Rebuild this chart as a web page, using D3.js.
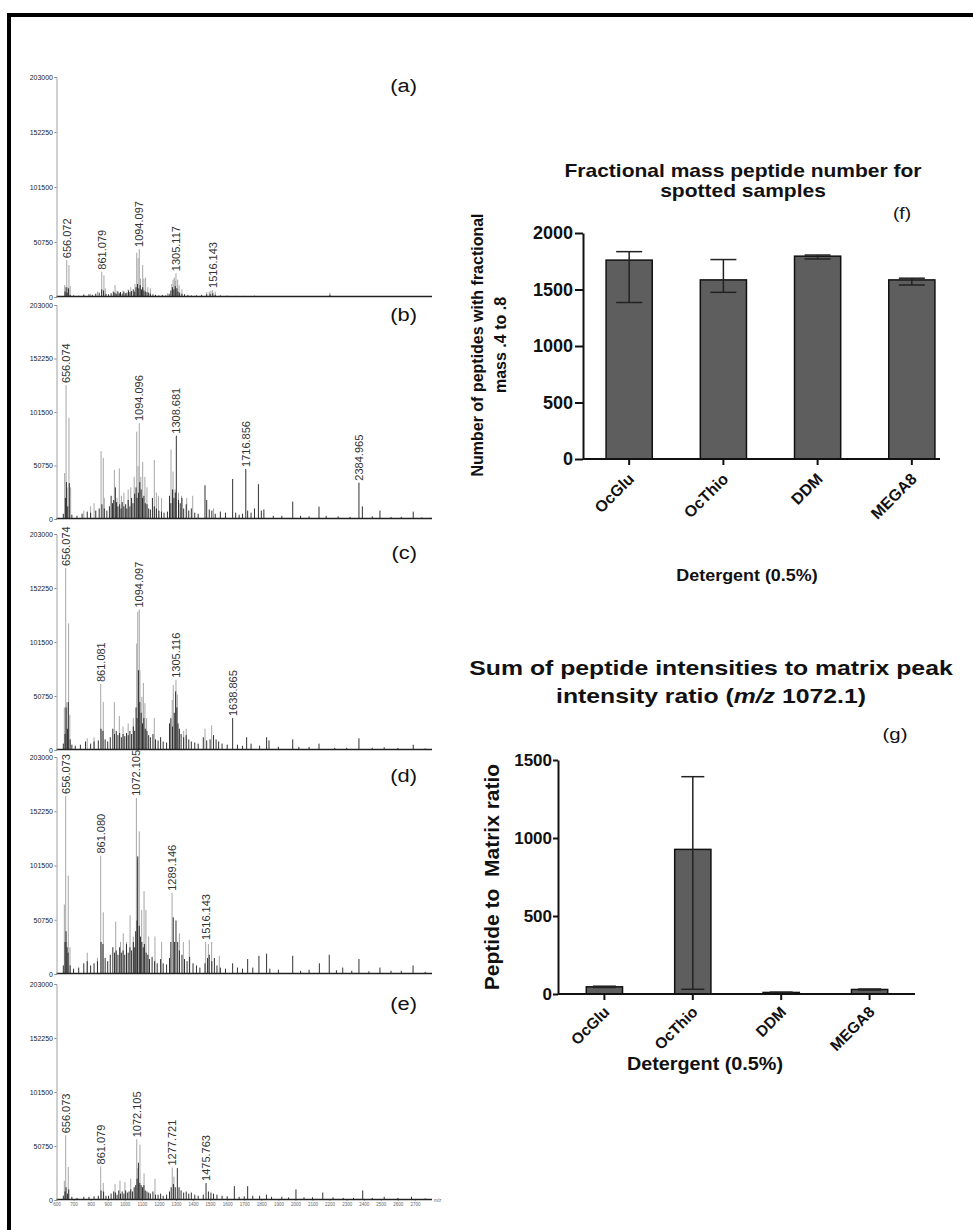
<!DOCTYPE html>
<html>
<head>
<meta charset="utf-8">
<script src="https://cdn.jsdelivr.net/npm/d3@7"></script>
<style>
  body { margin: 0; background: #fff; }
  svg { display: block; font-family: "Liberation Sans", Arial, sans-serif; }
</style>
</head>
<body>
<div class="render"></div>
<script>
"use strict";

var width = 973;
var height = 1230;
var FONT = '"Liberation Sans", Arial, sans-serif';

// ---- spectra (a)-(e): [m/z, intensity] ----
var specALight = [[648,11000],[660,34000],[664,9000],[673,29500],[680,10000],[760,2500],[800,3000],[840,5000],[865,23400],[878,20000],[886,8000],[943,11000],[955,6000],[975,4500],[990,6000],[1020,7000],[1035,9000],[1060,12000],[1070,40900],[1078,36000],[1085,44300],[1092,17000],[1105,29500],[1112,17000],[1122,18000],[1135,9000],[1150,8000],[1250,3500],[1275,12000],[1283,16000],[1290,18000],[1296,15000],[1300,22000],[1310,16000],[1318,11000],[1335,7000],[1480,4500],[1495,5000],[1505,6000],[1515,6500],[1530,5000],[2202,4000]];
var specADark = [[650,5000],[656,9000],[662,4000],[670,8000],[680,2000],[700,1500],[730,1200],[760,2000],[790,2500],[810,2000],[830,3000],[850,4000],[865,7000],[876,6000],[890,3000],[905,2500],[920,3500],[933,5000],[942,4000],[950,3000],[960,5000],[968,3500],[975,4500],[985,3000],[995,5000],[1003,3500],[1012,4000],[1022,6000],[1030,4500],[1040,5500],[1050,7000],[1058,5000],[1066,9000],[1075,12000],[1082,8000],[1090,11000],[1098,7000],[1105,9000],[1112,6000],[1120,5000],[1130,4500],[1140,4000],[1150,3000],[1165,2500],[1180,2000],[1200,1500],[1220,2000],[1240,1500],[1260,3000],[1270,6000],[1280,9000],[1288,7000],[1296,10000],[1305,8000],[1312,5000],[1322,4000],[1335,3000],[1350,2500],[1370,2000],[1390,1500],[1420,1500],[1450,2000],[1480,2500],[1500,3000],[1516,3500],[1530,2000],[1560,1500],[1600,1200],[1650,1000],[1700,1000],[1760,1200],[1820,900],[1880,800],[1950,900],[2000,700],[2070,800],[2120,800],[2202,2000],[2300,600],[2400,600],[2500,500],[2600,500],[2700,500],[2780,400]];

var specBLight = [[648,43600],[656,127000],[662,30000],[673,96000],[683,30000],[760,8000],[800,12000],[820,15000],[861,64500],[874,58000],[880,20000],[939,46500],[955,20000],[968,48000],[980,22000],[995,25000],[1020,28000],[1035,30000],[1055,40000],[1070,82800],[1078,50000],[1085,91000],[1094,40000],[1105,54000],[1118,40000],[1130,30000],[1173,56000],[1185,25000],[1197,22000],[1215,20000],[1271,66000],[1283,45000],[1295,28000],[1315,25000],[1333,22000],[1363,20000],[1398,22000],[1520,10000]];
var specBDark = [[640,5000],[652,20000],[658,35000],[666,12000],[675,34000],[690,4000],[720,3000],[750,5000],[780,7000],[800,6000],[830,8000],[850,10000],[866,14000],[880,10000],[895,8000],[910,12000],[920,22000],[928,15000],[935,18000],[945,30000],[952,16000],[960,12000],[970,14000],[978,10000],[985,16000],[995,12000],[1005,14000],[1012,10000],[1020,18000],[1030,12000],[1040,20000],[1048,15000],[1058,24000],[1066,30000],[1072,20000],[1080,25000],[1088,35000],[1096,28000],[1104,20000],[1112,22000],[1120,15000],[1130,14000],[1140,10000],[1150,9000],[1162,20000],[1173,12000],[1185,10000],[1200,8000],[1215,7000],[1230,6000],[1250,7000],[1262,22000],[1270,15000],[1280,28000],[1288,20000],[1296,25000],[1302,79000],[1315,18000],[1325,15000],[1335,20000],[1345,10000],[1360,14000],[1375,8000],[1390,10000],[1410,6000],[1430,5000],[1470,32000],[1480,18000],[1495,9000],[1510,8000],[1530,5000],[1560,7000],[1590,6000],[1632,38000],[1650,6000],[1670,4000],[1690,5000],[1709,47500],[1720,8000],[1740,6000],[1760,10000],[1783,33000],[1800,8000],[1815,9000],[1870,3000],[1920,3000],[1984,16500],[2030,3000],[2080,2500],[2138,11700],[2180,3000],[2250,2500],[2320,2000],[2372,34500],[2392,12000],[2450,2500],[2495,8000],[2560,2000],[2620,2000],[2690,7000],[2740,1500],[2790,1200]];

var specCLight = [[646,40000],[654,171000],[660,45000],[671,119000],[678,33000],[780,11000],[820,12000],[859,62000],[874,45000],[939,45000],[968,32000],[990,22000],[1020,25000],[1050,30000],[1070,100000],[1076,130000],[1085,132000],[1089,75000],[1100,50000],[1109,63000],[1118,44000],[1128,30000],[1173,30000],[1278,47000],[1284,61000],[1300,66000],[1308,52000],[1345,18000],[1360,20000],[1470,20000],[1509,23000]];
var specCDark = [[640,6000],[650,15000],[656,40000],[664,20000],[669,45000],[680,10000],[690,5000],[710,4000],[740,5000],[770,8000],[800,6000],[820,8000],[845,9000],[861,20000],[872,18000],[885,10000],[900,8000],[915,12000],[930,20000],[940,15000],[950,18000],[960,14000],[970,16000],[980,12000],[990,15000],[1000,13000],[1010,16000],[1020,14000],[1030,18000],[1040,15000],[1050,22000],[1058,18000],[1066,40000],[1072,30000],[1080,75000],[1088,45000],[1096,35000],[1104,25000],[1112,30000],[1120,20000],[1130,18000],[1140,14000],[1150,12000],[1165,15000],[1180,10000],[1195,9000],[1210,12000],[1225,8000],[1245,7000],[1262,25000],[1270,30000],[1280,22000],[1290,35000],[1298,55000],[1305,40000],[1312,25000],[1320,20000],[1330,15000],[1345,12000],[1360,14000],[1375,10000],[1390,8000],[1410,7000],[1430,6000],[1460,12000],[1480,9000],[1500,10000],[1520,14000],[1535,10000],[1550,8000],[1570,6000],[1600,5000],[1632,30000],[1660,5000],[1690,4000],[1714,12000],[1740,6000],[1790,4000],[1831,12000],[1845,9000],[1900,3000],[1984,10000],[2020,3000],[2080,3000],[2138,6000],[2230,2000],[2300,2000],[2372,11000],[2450,2000],[2520,2500],[2600,2000],[2690,5000],[2760,1500]];

var specDLight = [[646,65000],[654,166600],[660,30000],[669,92000],[679,25000],[780,20000],[840,15000],[859,110800],[874,57700],[947,49000],[975,30000],[991,38000],[1010,30000],[1031,55000],[1050,35000],[1068,164800],[1074,107000],[1085,133400],[1099,60000],[1113,77500],[1124,60000],[1140,35000],[1177,35000],[1216,30000],[1277,76000],[1320,38000],[1343,30000],[1378,32000],[1474,30000],[1490,28000],[1509,30000],[1554,17000]];
var specDDark = [[640,8000],[650,30000],[656,40000],[662,25000],[668,20000],[680,8000],[700,5000],[730,6000],[760,10000],[780,12000],[800,8000],[820,10000],[840,12000],[861,30000],[872,28000],[885,15000],[900,12000],[915,18000],[930,25000],[940,20000],[950,22000],[960,18000],[970,25000],[980,20000],[990,22000],[1000,18000],[1010,28000],[1020,20000],[1030,25000],[1040,22000],[1050,30000],[1058,25000],[1064,40000],[1072,50000],[1076,110000],[1085,45000],[1092,35000],[1100,30000],[1108,25000],[1115,28000],[1125,20000],[1135,18000],[1145,14000],[1160,16000],[1175,12000],[1190,10000],[1210,14000],[1225,10000],[1245,9000],[1262,15000],[1270,30000],[1284,53000],[1292,30000],[1300,50000],[1310,30000],[1320,22000],[1335,18000],[1350,14000],[1365,12000],[1380,16000],[1400,10000],[1420,8000],[1440,6000],[1470,10000],[1485,15000],[1495,18000],[1510,12000],[1525,15000],[1540,8000],[1560,6000],[1590,5000],[1632,10000],[1660,6000],[1690,5000],[1720,14000],[1750,6000],[1786,17000],[1831,19000],[1850,5000],[1900,4000],[1984,17000],[2030,3000],[2080,4000],[2140,10000],[2198,18000],[2240,3500],[2277,6000],[2330,3000],[2372,14000],[2430,2500],[2495,6000],[2560,3000],[2620,3000],[2689,8000],[2760,2000]];

var specELight = [[646,18000],[654,60800],[669,31000],[859,31500],[874,16000],[943,15000],[972,18000],[1001,17000],[1035,20000],[1070,57000],[1076,30000],[1089,52000],[1113,25000],[1177,20000],[1278,30500],[1288,22000]];
var specEDark = [[640,4000],[650,8000],[656,12000],[664,6000],[672,10000],[690,3000],[720,2000],[760,3000],[790,3000],[820,3500],[845,4000],[861,9000],[876,8000],[890,4000],[905,4000],[920,6000],[935,8000],[945,7000],[955,5000],[965,9000],[975,6000],[985,8000],[995,6000],[1005,9000],[1015,7000],[1025,8000],[1035,10000],[1045,8000],[1055,12000],[1064,14000],[1072,20000],[1080,35000],[1088,16000],[1096,14000],[1104,12000],[1112,14000],[1120,9000],[1130,8000],[1140,7000],[1150,6000],[1165,8000],[1180,5000],[1195,5000],[1210,6000],[1225,4000],[1245,5000],[1262,8000],[1272,12000],[1285,15000],[1296,12000],[1308,30000],[1318,12000],[1330,9000],[1345,7000],[1360,8000],[1375,6000],[1390,7000],[1410,5000],[1430,4000],[1460,5000],[1476,16000],[1490,8000],[1505,7000],[1520,6000],[1540,5000],[1570,4000],[1600,3500],[1642,13000],[1670,3000],[1700,3500],[1720,13000],[1750,4000],[1790,4000],[1830,5000],[1860,3000],[1920,3000],[1960,2500],[2003,10000],[2050,2500],[2100,2500],[2160,7000],[2220,2500],[2280,2000],[2340,2000],[2394,9000],[2450,2000],[2520,3000],[2600,2000],[2680,3000],[2760,1500]];

// peak labels: [text, m/z of the labelled peak]
var labelsA = [["656.072",660],["861.079",865],["1094.097",1085],["1305.117",1300],["1516.143",1515]];
var labelsB = [["656.074",656],["1094.096",1085],["1308.681",1302],["1716.856",1709],["2384.965",2372]];
var labelsC = [["656.074",654],["861.081",859],["1094.097",1085],["1305.116",1300],["1638.865",1632]];
var labelsD = [["656.073",654],["861.080",859],["1072.105",1068],["1289.146",1277],["1516.143",1474]];
var labelsE = [["656.073",654],["861.079",859],["1072.105",1070],["1277.721",1278],["1475.763",1476]];

var intensityTicks = [0, 50750, 101500, 152250, 203000];
var mzTicks = [600,700,800,900,1000,1100,1200,1300,1400,1500,1600,1700,1800,1900,2000,2100,2200,2300,2400,2500,2600,2700];

// ---- bar charts (f) and (g) ----
var detergents = ["OcGlu", "OcThio", "DDM", "MEGA8"];
var fracMean = [1760, 1585, 1795, 1585];
var fracLow = [1385, 1475, 1770, 1540];
var fracHigh = [1835, 1765, 1805, 1600];
var fracTicks = [0, 500, 1000, 1500, 2000];

var ratioMean = [46, 927, 10, 29];
var ratioLow = [42, 30, 8, 26];
var ratioHigh = [50, 1393, 12, 32];
var ratioTicks = [0, 500, 1000, 1500];

var svg = d3.select('.render').append('svg').attr('width', width).attr('height', height);
svg.append('rect').attr('width', width).attr('height', height).attr('fill', '#fff');

// outer frame (only top and left edges visible)
svg.append('line').attr('x1', 7).attr('y1', 15).attr('x2', width).attr('y2', 15).attr('stroke', '#000').attr('stroke-width', 4);
svg.append('line').attr('x1', 9).attr('y1', 13).attr('x2', 9).attr('y2', height).attr('stroke', '#000').attr('stroke-width', 4);

function stretched(parent, x, y, str, size, sx, anchor, weight) {
   return parent.append('text')
      .attr('transform', 'translate(' + x + ',' + y + ') scale(' + sx + ',1)')
      .attr('text-anchor', anchor).attr('font-size', size).attr('font-weight', weight || 'normal')
      .attr('font-family', FONT).attr('fill', '#111').text(str);
}

// ================= spectra =================
var mz = d3.scaleLinear().domain([600, 2800]).range([56.5, 432]);

var panels = [
   { name: '(a)', light: specALight, dark: specADark, labels: labelsA, top: 77, base: 297, letterY: 92 },
   { name: '(b)', light: specBLight, dark: specBDark, labels: labelsB, top: 305, base: 519, letterY: 321 },
   { name: '(c)', light: specCLight, dark: specCDark, labels: labelsC, top: 534, base: 750, letterY: 559 },
   { name: '(d)', light: specDLight, dark: specDDark, labels: labelsD, top: 757, base: 974, letterY: 782 },
   { name: '(e)', light: specELight, dark: specEDark, labels: labelsE, top: 984, base: 1200, letterY: 1010 }
];

panels.forEach(function (p, i) {
   var g = svg.append('g');
   var y = d3.scaleLinear().domain([0, 203000]).range([p.base, p.top]);

   g.selectAll('.lt').data(p.light).enter().append('line')
      .attr('x1', function (d) { return mz(d[0]); }).attr('x2', function (d) { return mz(d[0]); })
      .attr('y1', y(0)).attr('y2', function (d) { return y(d[1]); })
      .attr('stroke', '#a6a6a6').attr('stroke-width', 1);

   g.selectAll('.dk').data(p.dark).enter().append('line')
      .attr('x1', function (d) { return mz(d[0]); }).attr('x2', function (d) { return mz(d[0]); })
      .attr('y1', y(0)).attr('y2', function (d) { return y(d[1]); })
      .attr('stroke', '#1a1a1a').attr('stroke-width', 0.9);

   g.append('line').attr('x1', 56.5).attr('x2', 432).attr('y1', y(0) - 0.5).attr('y2', y(0) - 0.5)
      .attr('stroke', '#222').attr('stroke-width', 1.6);

   var ax = g.append('g').attr('transform', 'translate(56.5,0)')
      .call(d3.axisLeft(y).tickValues(intensityTicks).tickSize(2).tickPadding(1.5).tickFormat(d3.format('d')));
   ax.select('.domain').attr('stroke', '#888').attr('stroke-width', 0.8);
   ax.selectAll('line').attr('stroke', '#888');
   ax.selectAll('text').attr('font-size', 7).attr('fill', '#222').attr('font-family', FONT);

   p.labels.forEach(function (l) {
      var peak = d3.max(p.light.concat(p.dark).filter(function (d) { return Math.abs(d[0] - l[1]) < 1; }), function (d) { return d[1]; });
      g.append('text')
         .attr('transform', 'translate(' + (mz(l[1]) + 4) + ',' + (y(peak) - 2) + ') rotate(-90)')
         .attr('font-size', 11).attr('font-family', FONT).attr('fill', '#333').text(l[0]);
   });

   stretched(g, 417, p.letterY, p.name, 19, 1.15, 'end');

   if (i === panels.length - 1) {
      var xa = g.append('g').attr('transform', 'translate(0,' + p.base + ')')
         .call(d3.axisBottom(mz).tickValues(mzTicks).tickSize(1).tickPadding(1.5).tickFormat(d3.format('d')));
      xa.select('.domain').remove();
      xa.selectAll('line').attr('stroke', '#888');
      xa.selectAll('text').attr('font-size', 4.5).attr('fill', '#666').attr('font-family', FONT);
      g.append('text').attr('x', 434).attr('y', p.base + 2).attr('font-size', 4.5).attr('fill', '#666').text('m/z');
   }
});

// ================= bar charts =================
function barChart(c) {
   var g = svg.append('g');
   var x = d3.scaleBand().domain(detergents).range(c.xRange).paddingInner(c.padIn).paddingOuter(c.padOut);
   var y = d3.scaleLinear().domain(c.yDomain).range([c.y0, c.y1]);

   g.selectAll('.bar').data(detergents).enter().append('rect')
      .attr('x', function (d) { return x(d); })
      .attr('y', function (d, i) { return y(c.mean[i]); })
      .attr('width', x.bandwidth())
      .attr('height', function (d, i) { return y(0) - y(c.mean[i]); })
      .attr('fill', '#5e5e5e').attr('stroke', '#111').attr('stroke-width', 1.5);

   detergents.forEach(function (d, i) {
      var cx = x(d) + x.bandwidth() / 2;
      g.append('line').attr('x1', cx).attr('x2', cx).attr('y1', y(c.low[i])).attr('y2', y(c.high[i]))
         .attr('stroke', '#222').attr('stroke-width', 1.5);
      [c.low[i], c.high[i]].forEach(function (v) {
         g.append('line').attr('x1', cx - c.capW / 2).attr('x2', cx + c.capW / 2).attr('y1', y(v)).attr('y2', y(v))
            .attr('stroke', '#222').attr('stroke-width', 1.5);
      });
   });

   var ya = g.append('g').attr('transform', 'translate(' + c.xAxis + ',0)')
      .call(d3.axisLeft(y).tickValues(c.ticks).tickSize(c.tickLen).tickPadding(c.tickPad).tickSizeOuter(0).tickFormat(d3.format('d')));
   ya.select('.domain').attr('stroke', '#111').attr('stroke-width', 2);
   ya.selectAll('line').attr('stroke', '#111').attr('stroke-width', 2);
   ya.selectAll('text').attr('font-size', c.tickFont).attr('font-weight', 'bold').attr('fill', '#111')
      .attr('font-family', FONT);

   var xa = g.append('g').attr('transform', 'translate(0,' + c.y0 + ')')
      .call(d3.axisBottom(x).tickSize(6).tickSizeOuter(0));
   xa.select('.domain').attr('d', 'M' + c.xAxis + ',0H' + c.xEnd).attr('stroke', '#111').attr('stroke-width', 2);
   xa.selectAll('line').attr('stroke', '#111').attr('stroke-width', 2);
   xa.selectAll('text').attr('x', 0).attr('y', 0).attr('dy', 0)
      .attr('transform', 'translate(' + c.labDx + ',' + c.labDy + ') rotate(-45)').attr('text-anchor', 'end')
      .attr('font-size', c.labFont).attr('font-weight', 'bold').attr('fill', '#111')
      .attr('font-family', FONT);
   return g;
}

// (f)
var gf = barChart({
   mean: fracMean, low: fracLow, high: fracHigh, yDomain: [0, 2000], ticks: fracTicks,
   y0: 459, y1: 233, xRange: [583, 958], padIn: 0.51, padOut: 0.245, xAxis: 583, xEnd: 940,
   capW: 26, tickLen: 8, tickPad: 2, tickFont: 18, labDx: 6, labDy: 21, labFont: 16
});
stretched(gf, 743, 177, 'Fractional mass peptide number for', 18, 1.167, 'middle', 'bold');
stretched(gf, 743, 197, 'spotted samples', 18, 1.167, 'middle', 'bold');
stretched(gf, 902, 219, '(f)', 16, 1.2, 'middle');
gf.append('text').attr('transform', 'translate(483,345) rotate(-90)').attr('text-anchor', 'middle')
   .attr('font-size', 16).attr('font-weight', 'bold').attr('font-family', FONT).attr('fill', '#111')
   .text('Number of peptides with fractional');
gf.append('text').attr('transform', 'translate(506,345) rotate(-90)').attr('text-anchor', 'middle')
   .attr('font-size', 16).attr('font-weight', 'bold').attr('font-family', FONT).attr('fill', '#111')
   .text('mass .4 to .8');
stretched(gf, 747, 581, 'Detergent (0.5%)', 16, 1.12, 'middle', 'bold');

// (g)
var gg = barChart({
   mean: ratioMean, low: ratioLow, high: ratioHigh, yDomain: [0, 1500], ticks: ratioTicks,
   y0: 994, y1: 760, xRange: [558, 916], padIn: 0.59, padOut: 0.32, xAxis: 558, xEnd: 915,
   capW: 23, tickLen: 5, tickPad: 1, tickFont: 17, labDx: 6, labDy: 19, labFont: 15.5
});
stretched(gg, 711, 675, 'Sum of peptide intensities to matrix peak', 20, 1.24, 'middle', 'bold');
var t2 = stretched(gg, 711, 703, '', 20, 1.24, 'middle', 'bold');
t2.append('tspan').text('intensity ratio (');
t2.append('tspan').attr('font-style', 'italic').text('m/z');
t2.append('tspan').text(' 1072.1)');
stretched(gg, 895, 740, '(g)', 17, 1.2, 'middle');
gg.append('text').attr('transform', 'translate(499,877) rotate(-90)').attr('text-anchor', 'middle')
   .attr('font-size', 21).attr('font-weight', 'bold').attr('font-family', FONT).attr('fill', '#111')
   .style('white-space', 'pre').text('Peptide to  Matrix ratio');
stretched(gg, 705, 1070, 'Detergent (0.5%)', 18, 1.1, 'middle', 'bold');
</script>
</body>
</html>
